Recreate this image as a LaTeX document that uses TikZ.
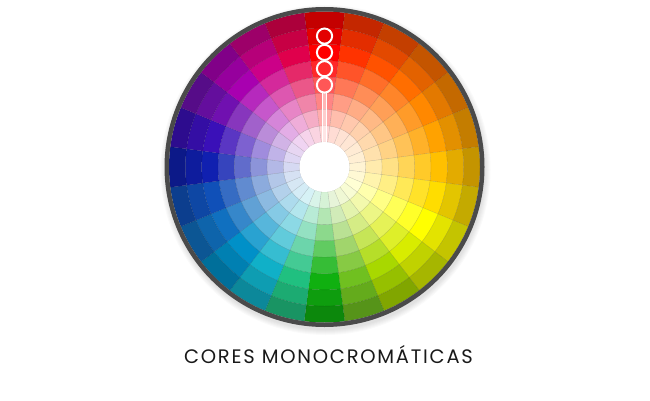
\documentclass[tikz,border=0pt]{standalone}
\usepackage{fontspec}
\setmainfont{Poppins}
\newfontfamily\capfont[LetterSpace=9]{Poppins}
\definecolor{rimgray}{HTML}{4A4A4A}
\tikzset{
  cell/.style={draw=black, draw opacity=0.13, line width=0.35pt},
  marker/.style={draw=white, line width=2pt},
  caption/.style={font=\capfont\fontsize{19.5}{22}\selectfont, text=black!90, anchor=base, inner sep=0pt}
}
\begin{document}
\begin{tikzpicture}[x=1pt,y=1pt]
\useasboundingbox (0,0) rectangle (650,400);
% soft shadow
\foreach \i in {1,...,6}{
  \fill[black, opacity=0.018] (325.5,230) circle[radius={159pt+\i*1.0pt}];
}
\begin{scope}[shift={(324.5,233)}]
\foreach \c [count=\k from 0] in {FF0000,FF3300,FF5200,FF6E00,FF8800,FFA200,FFC000,FFDD00,FFFF00,D8EC00,A8D800,70C020,10B010,20C080,10B0C8,0090C8,1070C0,1050B8,1020B0,3A10B8,7010B0,A800B0,CC0088,E0004C}{
  \definecolor{basec}{HTML}{\c}
  \pgfmathsetmacro\a{90-15*\k-7.5}
  \pgfmathsetmacro\b{\a+15}
  \foreach \r/\col in {1/basec!17!white,2/basec!32!white,3/basec!48!white,4/basec!66!white,5/basec!84!white,6/basec,7/basec!89!black,8/basec!77!black}{
    \pgfmathsetmacro\ri{25+16.3125*(\r-1)}
    \pgfmathsetmacro\ro{25+16.3125*\r}
    \filldraw[cell, fill=\col] (\a:\ri pt) arc[start angle=\a, end angle=\b, radius=\ri pt] -- (\b:\ro pt) arc[start angle=\b, end angle=\a, radius=\ro pt] -- cycle;
  }
}
% rim
\draw[rimgray, line width=4.5pt] (0,0) circle[radius=157.75pt];
% center
\fill[white] (0,0) circle[radius=25pt];
% stick
\fill[white, opacity=0.4] (-2,24) rectangle (2,74.5);
\draw[white, line width=1.3pt] (-2,24) -- (-2,74.5);
\draw[white, line width=1.3pt] (2,24) -- (2,74.5);
% circles
\foreach \rr in {130.9,114.6,98.3,82.0}{
  \draw[marker] (0,\rr) circle[radius=7.6pt];
}
\end{scope}
\node[caption] (title) at (328.5,36.7) {CORES MONOCROMÁTICAS};
\end{tikzpicture}
\end{document}
